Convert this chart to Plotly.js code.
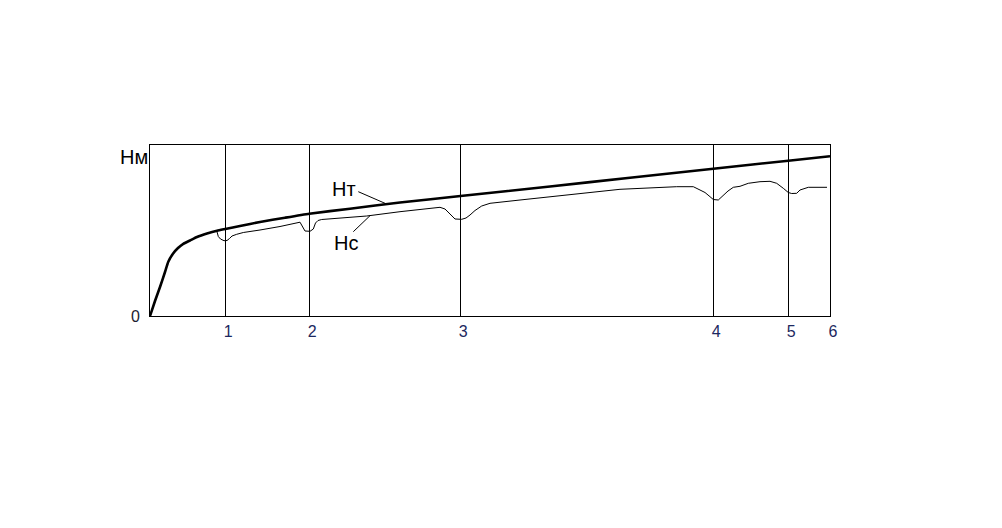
<!DOCTYPE html>
<html>
<head>
<meta charset="utf-8">
<script src="https://cdn.plot.ly/plotly-3.0.1.min.js"></script>
<style>html,body{margin:0;padding:0;background:#fff;}#chart{width:1002px;height:528px;}</style>
</head>
<body>
<div id="chart"></div>
<script>
// Station positions along the route (x units) and their labels
var stationPos = [0.753, 1.593, 3.103, 5.633, 6.383, 6.8];
var stationLabels = ['1', '2', '3', '4', '5', '6'];

// Нт curve (thick)
var htX = [0, 0.05, 0.10, 0.15, 0.183, 0.233, 0.28, 0.333, 0.40, 0.47, 0.57, 0.67, 0.753, 0.90, 1.10, 1.35, 1.593, 2.0, 2.5, 3.105, 4.0, 4.8, 5.633, 6.383, 6.8];
var htY = [0, 0.15, 0.29, 0.44, 0.543, 0.627, 0.68, 0.722, 0.755, 0.79, 0.825, 0.853, 0.87, 0.90, 0.94, 0.983, 1.023, 1.073, 1.135, 1.20, 1.295, 1.383, 1.473, 1.553, 1.597];

// Нс curve (thin)
var hcX = [0, 0.05, 0.10, 0.15, 0.183, 0.233, 0.28, 0.333, 0.40, 0.47, 0.57, 0.667, 0.683, 0.705, 0.74, 0.77, 0.795, 0.82, 0.867, 0.933, 1.10, 1.30, 1.50, 1.517, 1.535, 1.55, 1.60, 1.633, 1.655, 1.68, 1.717, 1.90, 2.167, 2.5, 2.70, 2.90, 2.95, 3.0, 3.05, 3.117, 3.16, 3.20, 3.25, 3.317, 3.40, 3.70, 4.0, 4.70, 5.267, 5.433, 5.50, 5.55, 5.60, 5.633, 5.683, 5.733, 5.78, 5.833, 5.90, 5.983, 6.10, 6.20, 6.267, 6.333, 6.383, 6.417, 6.467, 6.50, 6.583, 6.77];
var hcY = [0, 0.15, 0.29, 0.44, 0.543, 0.627, 0.68, 0.722, 0.755, 0.79, 0.825, 0.853, 0.795, 0.77, 0.753, 0.755, 0.775, 0.80, 0.817, 0.835, 0.86, 0.895, 0.938, 0.91, 0.87, 0.85, 0.847, 0.87, 0.93, 0.955, 0.965, 0.977, 1.0, 1.043, 1.067, 1.087, 1.07, 1.015, 0.97, 0.967, 0.98, 1.01, 1.055, 1.10, 1.127, 1.16, 1.193, 1.267, 1.293, 1.293, 1.26, 1.235, 1.193, 1.165, 1.16, 1.205, 1.25, 1.287, 1.297, 1.327, 1.343, 1.347, 1.327, 1.277, 1.235, 1.225, 1.227, 1.26, 1.287, 1.287];

// Curve labels and their leader lines [textX, textY, lineX0, lineY0, lineX1, lineY1]
var curveNames = ['Нт', 'Нс'];
var curveLabelPos = [[1.94, 1.275, 2.083, 1.243, 2.35, 1.127], [1.96, 0.735, 2.033, 0.843, 2.20, 1.003]];
var yUnit = 'Нм';
var yUnitPos = [-0.16, 1.595];

var font = 'Arial, "Liberation Sans", sans-serif';
var xMax = 6.8;

var traces = [
  {x: hcX, y: hcY, mode: 'lines', line: {color: '#000', width: 1}, hoverinfo: 'skip', showlegend: false},
  {x: htX, y: htY, mode: 'lines', line: {color: '#000', width: 2.6, shape: 'spline', smoothing: 0.5}, hoverinfo: 'skip', showlegend: false}
];

var annotations = [];
var shapes = [];
for (var i = 0; i < curveNames.length; i++) {
  var p = curveLabelPos[i];
  annotations.push({x: p[0], y: p[1], xref: 'x', yref: 'y', text: curveNames[i], showarrow: false,
    font: {family: font, size: 20, color: '#000'}, xanchor: 'center', yanchor: 'middle'});
  shapes.push({type: 'line', xref: 'x', yref: 'y', x0: p[2], y0: p[3], x1: p[4], y1: p[5], line: {color: '#000', width: 1}});
}
annotations.push({x: yUnitPos[0] / xMax, y: yUnitPos[1], xref: 'paper', yref: 'y', text: yUnit, showarrow: false,
  font: {family: font, size: 20, color: '#000'}, xanchor: 'center', yanchor: 'middle'});

var layout = {
  width: 1002, height: 528,
  margin: {l: 150, r: 172, t: 145, b: 212},
  paper_bgcolor: '#fff', plot_bgcolor: '#fff',
  showlegend: false,
  xaxis: {
    range: [0, xMax], tickvals: stationPos, ticktext: stationLabels,
    showgrid: true, gridcolor: '#000', gridwidth: 1, zeroline: false,
    showline: true, mirror: true, linecolor: '#000', linewidth: 1,
    ticks: '', ticklabelshift: 3, ticklabelstandoff: 1,
    tickfont: {family: font, size: 16, color: '#1c2860'}, fixedrange: true
  },
  yaxis: {
    range: [0, 1.71], tickvals: [0], ticktext: ['0'],
    showgrid: false, zeroline: false,
    showline: true, mirror: true, linecolor: '#000', linewidth: 1,
    ticks: '', ticklabelstandoff: 6,
    tickfont: {family: font, size: 16, color: '#1c2030'}, fixedrange: true
  },
  annotations: annotations,
  shapes: shapes
};

Plotly.newPlot('chart', traces, layout, {displayModeBar: false, staticPlot: true});
</script>
</body>
</html>
